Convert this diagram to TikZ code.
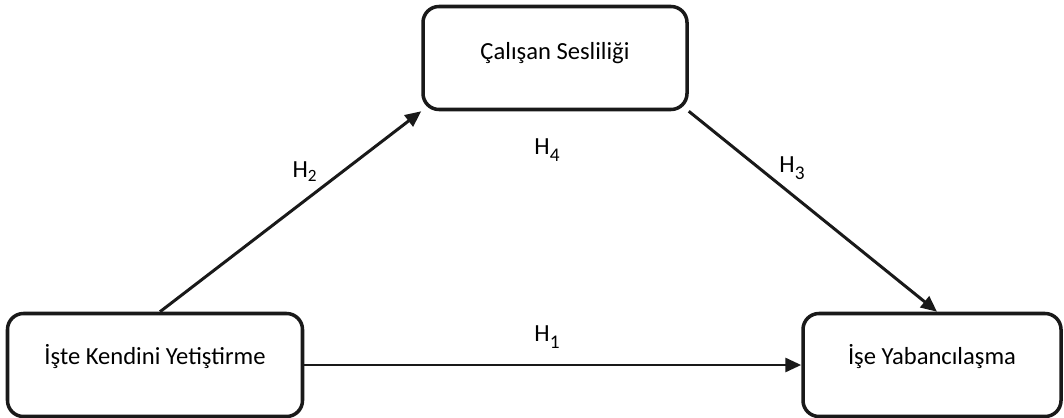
\documentclass[tikz,border=0pt]{standalone}
\usepackage{fontspec}
\setmainfont{Carlito}
\usepackage{tikz}
\usetikzlibrary{arrows.meta}

\begin{document}
\begin{tikzpicture}[x=0.02cm,y=-0.02cm,
  varbox/.style={draw=black!90,line width=2pt,rounded corners=0.32cm,fill=white,
    font=\fontsize{14}{16}\selectfont,align=center},
  path/.style={line width=1.7pt,draw=black!90,-{Triangle[length=0.32cm,width=0.28cm]}},
  hlab/.style={font=\fontsize{14}{16}\selectfont,inner sep=0pt}]

  \useasboundingbox (0,0) rectangle (1064,418);

  \node[varbox,minimum width=264*0.02cm,minimum height=103*0.02cm,text depth=0.28cm] (ses) at (555,58) {Çalışan Sesliliği};
  \node[varbox,minimum width=295*0.02cm,minimum height=103*0.02cm,text depth=0.42cm] (gel) at (155,365) {İşte Kendini Yetiştirme};
  \node[varbox,minimum width=258*0.02cm,minimum height=103*0.02cm,text depth=0.42cm] (yab) at (932,365) {İşe Yabancılaşma};

  \draw[path] ([xshift=0.1cm]gel.north) -- (ses.south west);
  \draw[path] (ses.south east) -- ([xshift=0.1cm]yab.north);
  \draw[path] (gel.east) -- (yab.west);

  \node[hlab] (h2) at (305,172) {H\textsubscript{2}};
  \node[hlab] (h4) at (547,150) {H\raisebox{-0.55ex}{\fontsize{11}{12}\selectfont 4}};
  \node[hlab] (h3) at (792,168) {H\raisebox{-0.55ex}{\fontsize{11}{12}\selectfont 3}};
  \node[hlab] (h1) at (547,337) {H\raisebox{-0.55ex}{\fontsize{11}{12}\selectfont 1}};
\end{tikzpicture}
\end{document}
